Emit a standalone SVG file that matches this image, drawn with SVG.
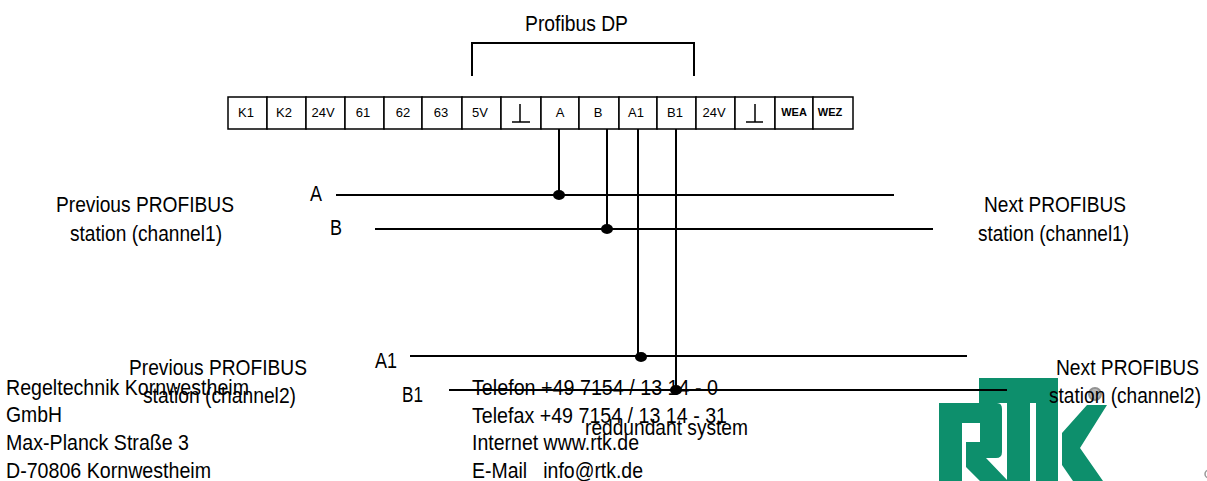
<svg xmlns="http://www.w3.org/2000/svg" width="1207" height="481" viewBox="0 0 1207 481">
<style>
text{font-family:"Liberation Sans",Arial,sans-serif;fill:#000}
.l{font-size:22px}
.c{font-size:13px;text-anchor:middle}
.b{font-size:11px;font-weight:bold;text-anchor:middle}
.w{fill:none;stroke:#000;stroke-width:2}
.t{fill:#fff;stroke:#000;stroke-width:1.5}
.g{fill:#0d8f6c}
</style>
<rect width="1207" height="481" fill="#fff"/>
<g id="logo">
<path class="g" fill-rule="evenodd" d="M939 403H997Q1002 403 1002 409V452Q1002 458 996 458H986L1008 481H980L966 467V442H980V423H962V481H939Z"/>
<path class="g" d="M979 378H1058V481H1036V403H1030V481H1007V403H979Z"/>
<path class="g" d="M1062 433L1087 405H1107L1080 448L1103 481H1073L1062 465Z"/>
<circle cx="1095" cy="394" r="6" fill="#aaa" stroke="#777" stroke-width="2" opacity=".8"/>
<circle cx="1209" cy="474" r="4" fill="none" stroke="#999" stroke-width="1.5"/>
</g>
<g id="terminals">
<g id="t1"><rect class="t" x="228" y="97" width="39" height="32"/><text class="c" x="246" y="117">K1</text></g>
<g id="t2"><rect class="t" x="267" y="97" width="39" height="32"/><text class="c" x="284" y="117">K2</text></g>
<g id="t3"><rect class="t" x="306" y="97" width="39" height="32"/><text class="c" x="323" y="117">24V</text></g>
<g id="t4"><rect class="t" x="345" y="97" width="39" height="32"/><text class="c" x="363" y="117">61</text></g>
<g id="t5"><rect class="t" x="384" y="97" width="38" height="32"/><text class="c" x="403" y="117">62</text></g>
<g id="t6"><rect class="t" x="422" y="97" width="40" height="32"/><text class="c" x="441" y="117">63</text></g>
<g id="t7"><rect class="t" x="462" y="97" width="39" height="32"/><text class="c" x="480" y="117">5V</text></g>
<g id="t8"><rect class="t" x="501" y="97" width="40" height="32"/><path d="M520 104V122M512 122H530" fill="none" stroke="#000" stroke-width="1.5"/></g>
<g id="t9"><rect class="t" x="541" y="97" width="38" height="32"/><text class="c" x="560" y="117">A</text></g>
<g id="t10"><rect class="t" x="579" y="97" width="40" height="32"/><text class="c" x="598" y="117">B</text></g>
<g id="t11"><rect class="t" x="619" y="97" width="38" height="32"/><text class="c" x="636" y="117">A1</text></g>
<g id="t12"><rect class="t" x="657" y="97" width="39" height="32"/><text class="c" x="675" y="117">B1</text></g>
<g id="t13"><rect class="t" x="696" y="97" width="39" height="32"/><text class="c" x="714" y="117">24V</text></g>
<g id="t14"><rect class="t" x="735" y="97" width="40" height="32"/><path d="M755 104V122M746 122H763" fill="none" stroke="#000" stroke-width="1.5"/></g>
<g id="t15"><rect class="t" x="775" y="97" width="38" height="32"/><text class="b" x="794" y="116">WEA</text></g>
<g id="t16"><rect class="t" x="813" y="97" width="40" height="32"/><text class="b" x="830" y="116">WEZ</text></g>
</g>
<g id="connectors">
<path class="w" d="M472 76V43H694V76"/>
<path class="w" d="M336 195H894M375 229H933M410 356H967M449 390H1007"/>
<path class="w" d="M559 129V195M607 129V229M638 129V356M676 129V390"/>
<ellipse cx="559" cy="195" rx="6" ry="5"/><ellipse cx="607" cy="229" rx="6" ry="5"/><ellipse cx="641" cy="357" rx="6" ry="5"/><ellipse cx="676" cy="390" rx="6" ry="5"/>
</g>
<g id="labels">
<text class="l" x="525" y="31" textLength="103" lengthAdjust="spacingAndGlyphs">Profibus DP</text>
<text class="l" x="310" y="201" textLength="12" lengthAdjust="spacingAndGlyphs">A</text>
<text class="l" x="330" y="235" textLength="12" lengthAdjust="spacingAndGlyphs">B</text>
<text class="l" x="375" y="368" textLength="22" lengthAdjust="spacingAndGlyphs">A1</text>
<text class="l" x="402" y="402" textLength="21" lengthAdjust="spacingAndGlyphs">B1</text>
<text class="l" x="56" y="212" textLength="178" lengthAdjust="spacingAndGlyphs">Previous PROFIBUS</text>
<text class="l" x="70" y="241" textLength="152" lengthAdjust="spacingAndGlyphs">station (channel1)</text>
<text class="l" x="984" y="212" textLength="142" lengthAdjust="spacingAndGlyphs">Next PROFIBUS</text>
<text class="l" x="978" y="241" textLength="151" lengthAdjust="spacingAndGlyphs">station (channel1)</text>
<text class="l" x="129" y="375" textLength="178" lengthAdjust="spacingAndGlyphs">Previous PROFIBUS</text>
<text class="l" x="143" y="403" textLength="153" lengthAdjust="spacingAndGlyphs">station (channel2)</text>
<text class="l" x="1056" y="375" textLength="143" lengthAdjust="spacingAndGlyphs">Next PROFIBUS</text>
<text class="l" x="1049" y="403" textLength="152" lengthAdjust="spacingAndGlyphs">station (channel2)</text>
<text class="l" x="585" y="435" textLength="163" lengthAdjust="spacingAndGlyphs">reddundant system</text>
<text class="l" x="6" y="395" textLength="243" lengthAdjust="spacingAndGlyphs">Regeltechnik Kornwestheim</text>
<text class="l" x="6" y="422" textLength="56" lengthAdjust="spacingAndGlyphs">GmbH</text>
<text class="l" x="6" y="450" textLength="183" lengthAdjust="spacingAndGlyphs">Max-Planck Straße 3</text>
<text class="l" x="6" y="478" textLength="205" lengthAdjust="spacingAndGlyphs">D-70806 Kornwestheim</text>
<text class="l" x="472" y="395" textLength="246" lengthAdjust="spacingAndGlyphs">Telefon +49 7154 / 13 14 - 0</text>
<text class="l" x="472" y="423" textLength="255" lengthAdjust="spacingAndGlyphs">Telefax +49 7154 / 13 14 - 31</text>
<text class="l" x="472" y="450" textLength="167" lengthAdjust="spacingAndGlyphs">Internet www.rtk.de</text>
<text class="l" x="472" y="478" textLength="171" lengthAdjust="spacingAndGlyphs" xml:space="preserve">E-Mail   info@rtk.de</text>
</g>
</svg>
